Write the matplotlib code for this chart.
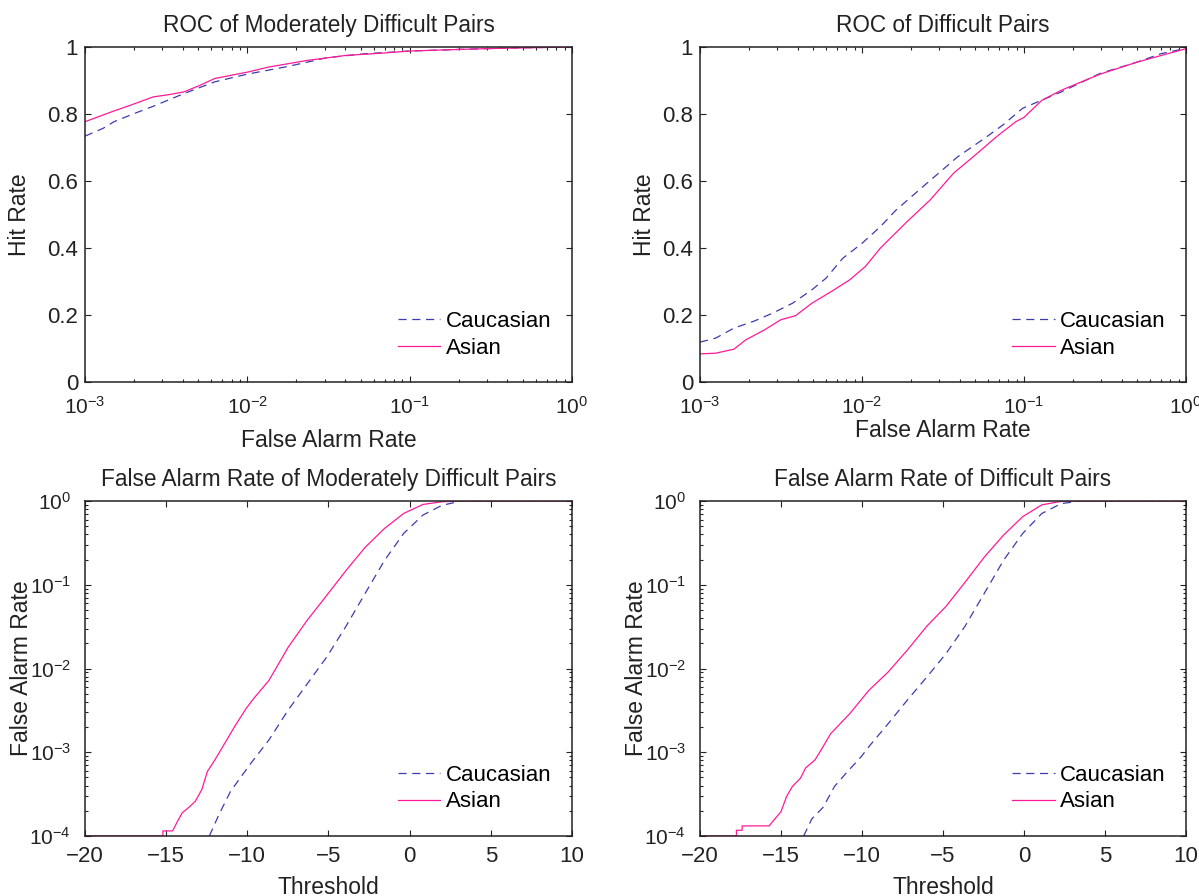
import matplotlib
matplotlib.use("Agg")
import matplotlib.pyplot as plt
from matplotlib.ticker import LogLocator, NullFormatter

plt.rcParams['font.family'] = ['Liberation Sans', 'DejaVu Sans']
plt.rcParams['mathtext.fontset'] = 'custom'
plt.rcParams['mathtext.rm'] = 'Liberation Sans'
plt.rcParams['mathtext.it'] = 'Liberation Sans:italic'
plt.rcParams['mathtext.bf'] = 'Liberation Sans:bold'

# ---- ROC, moderately difficult pairs (false alarm rate, hit rate) ----
roc_mod_cau_far = [1.0e-3, 1.29e-3, 1.51e-3, 2.0e-3, 2.63e-3, 4.07e-3, 6.3e-3, 1.0e-2,
                   1.78e-2, 3.09e-2, 5.37e-2, 1.0e-1, 2.1e-1, 4.0e-1, 1.0]
roc_mod_cau_hit = [0.734, 0.757, 0.777, 0.801, 0.823, 0.861, 0.896, 0.919,
                   0.942, 0.968, 0.980, 0.988, 0.993, 0.997, 1.0]
roc_mod_asi_far = [1.0e-3, 1.45e-3, 1.95e-3, 2.63e-3, 3.31e-3, 4.07e-3, 5.13e-3, 6.3e-3,
                   1.0e-2, 1.35e-2, 2.34e-2, 4.07e-2, 6.9e-2, 1.0e-1, 2.1e-1, 3.5e-1, 1.0]
roc_mod_asi_hit = [0.777, 0.806, 0.828, 0.851, 0.858, 0.866, 0.886, 0.906,
                   0.925, 0.940, 0.960, 0.975, 0.982, 0.988, 0.993, 0.996, 1.0]

# ---- ROC, difficult pairs ----
roc_dif_cau_far = [1.0e-3, 1.25e-3, 1.62e-3, 2.14e-3, 2.82e-3, 3.72e-3, 4.9e-3, 6.0e-3,
                   7.6e-3, 1.0e-2, 1.3e-2, 1.62e-2, 2.51e-2, 3.89e-2, 5.69e-2, 7.4e-2,
                   9.8e-2, 1.7e-1, 2.95e-1, 5.0e-1, 7.0e-1, 1.0]
roc_dif_cau_hit = [0.119, 0.131, 0.161, 0.181, 0.206, 0.235, 0.275, 0.310,
                   0.369, 0.414, 0.464, 0.513, 0.593, 0.672, 0.727, 0.767,
                   0.817, 0.866, 0.921, 0.955, 0.980, 0.996]
roc_dif_asi_far = [1.0e-3, 1.25e-3, 1.62e-3, 1.92e-3, 2.51e-3, 3.16e-3, 3.89e-3, 4.9e-3,
                   6.46e-3, 8.4e-3, 1.05e-2, 1.3e-2, 1.9e-2, 2.63e-2, 3.67e-2, 5.13e-2,
                   6.76e-2, 8.9e-2, 1.0e-1, 1.29e-1, 1.7e-1, 2.95e-1, 5.0e-1, 1.0]
roc_dif_asi_hit = [0.084, 0.086, 0.098, 0.126, 0.156, 0.186, 0.198, 0.235,
                   0.270, 0.305, 0.345, 0.400, 0.479, 0.543, 0.623, 0.682,
                   0.732, 0.777, 0.790, 0.841, 0.871, 0.919, 0.955, 0.995]

# ---- False alarm rate vs threshold, moderately difficult pairs ----
far_mod_cau_thr = [-12.34, -11.75, -11.04, -9.85, -8.67, -7.48, -6.3, -5.1, -3.92,
                   -2.74, -1.55, -0.37, 0.82, 2.0, 3.2, 10.0]
far_mod_cau_val = [1.0e-4, 1.8e-4, 3.4e-4, 7.1e-4, 1.4e-3, 3.2e-3, 6.6e-3, 1.38e-2, 3.2e-2,
                   7.9e-2, 0.195, 0.41, 0.68, 0.89, 1.0, 1.0]
far_mod_asi_thr = [-20.0, -15.2, -15.2, -14.6, -14.3, -14.0, -13.6, -13.2, -12.8, -12.46,
                   -12.0, -11.27, -10.8, -10.09, -9.6, -8.67, -7.48, -6.3, -5.1, -3.92,
                   -2.74, -1.55, -0.37, 0.82, 2.0, 3.2, 10.0]
far_mod_asi_val = [1.0e-4, 1.0e-4, 1.15e-4, 1.15e-4, 1.5e-4, 1.9e-4, 2.2e-4, 2.6e-4, 3.6e-4, 5.9e-4,
                   8.1e-4, 1.4e-3, 2.0e-3, 3.3e-3, 4.4e-3, 7.2e-3, 1.8e-2, 3.8e-2, 7.5e-2, 0.148,
                   0.28, 0.47, 0.71, 0.91, 0.98, 1.0, 1.0]

# ---- False alarm rate vs threshold, difficult pairs ----
far_dif_cau_thr = [-13.6, -13.1, -12.4, -11.7, -10.99, -10.04, -9.57, -8.38, -7.2, -6.0,
                   -4.82, -3.64, -2.45, -1.27, -0.08, 1.1, 2.29, 3.48, 10.0]
far_dif_cau_val = [1.0e-4, 1.6e-4, 2.2e-4, 3.9e-4, 5.6e-4, 8.9e-4, 1.17e-3, 2.2e-3, 4.2e-3, 7.9e-3,
                   1.5e-2, 3.2e-2, 7.9e-2, 0.195, 0.41, 0.71, 0.93, 1.0, 1.0]
far_dif_asi_thr = [-20.0, -17.75, -17.75, -17.4, -17.4, -15.73, -15.5, -15.0, -14.66, -14.3,
                   -13.8, -13.48, -12.9, -12.4, -11.94, -10.75, -9.57, -8.38, -7.2, -6.0,
                   -4.82, -3.64, -2.45, -1.27, -0.08, 1.1, 2.29, 3.5, 10.0]
far_dif_asi_val = [1.0e-4, 1.0e-4, 1.17e-4, 1.17e-4, 1.32e-4, 1.32e-4, 1.5e-4, 1.95e-4, 2.95e-4, 3.9e-4,
                   4.9e-4, 6.5e-4, 8.1e-4, 1.17e-3, 1.66e-3, 2.9e-3, 5.5e-3, 9.1e-3, 1.66e-2, 3.2e-2,
                   5.5e-2, 0.107, 0.214, 0.39, 0.65, 0.90, 0.99, 1.0, 1.0]

series_names = ["Caucasian", "Asian"]
cau_color = "#3c3cb0"
asi_color = "#ff1a96"
ink = '#222222'
dash = (0, (6.5, 4.5))

W, H = 1199, 896
fig = plt.figure(figsize=(W / 100, H / 100), dpi=100)


def px_axes(x0, x1, y0, y1):
    return fig.add_axes([x0 / W, 1 - y1 / H, (x1 - x0) / W, (y1 - y0) / H])


ax_tl = px_axes(85, 572, 47, 382)
ax_tr = px_axes(700, 1186, 47, 382)
ax_bl = px_axes(85, 572, 501, 836)
ax_br = px_axes(700, 1186, 501, 836)

LIN_FS = 16
LOG_FS = 15
LAB_FS = 16.5
TITLE_FS = 16.3


def style(ax):
    ax.tick_params(which='both', direction='in', top=True, right=True,
                   colors=ink, width=0.8)
    ax.tick_params(which='major', length=4.5)
    ax.tick_params(which='minor', length=2.5)
    for s in ax.spines.values():
        s.set_linewidth(1.1)
        s.set_color(ink)


def add_legend(ax, y_top):
    ax.legend(series_names, frameon=False, loc='upper left',
              bbox_to_anchor=(0.643, y_top), borderaxespad=0, borderpad=0,
              fontsize=LIN_FS, handlelength=1.9, handletextpad=0.25,
              labelspacing=0.26)


def roc_panel(ax, cf, ch, af, ah, title, xlab_y, ylab_x):
    ax.plot(cf, ch, color=cau_color, linestyle=dash, linewidth=0.9)
    ax.plot(af, ah, color=asi_color, linewidth=0.9)
    ax.set_xscale('log')
    ax.set_xlim(1e-3, 1)
    ax.set_ylim(0, 1)
    ax.set_yticks([0, 0.2, 0.4, 0.6, 0.8, 1.0])
    ax.set_yticklabels(["0", "0.2", "0.4", "0.6", "0.8", "1"])
    ax.xaxis.set_major_locator(LogLocator(base=10, numticks=10))
    ax.xaxis.set_minor_locator(LogLocator(base=10, subs=range(2, 10), numticks=20))
    ax.xaxis.set_minor_formatter(NullFormatter())
    style(ax)
    ax.tick_params(axis='x', which='major', labelsize=LOG_FS, pad=10)
    ax.tick_params(axis='y', which='major', labelsize=LIN_FS, pad=5)
    ax.set_title(title, fontsize=TITLE_FS, color=ink, pad=11)
    ax.set_xlabel("False Alarm Rate", fontsize=LAB_FS, color=ink)
    ax.set_ylabel("Hit Rate", fontsize=LAB_FS, color=ink)
    ax.xaxis.set_label_coords(0.5, xlab_y)
    ax.yaxis.set_label_coords(ylab_x, 0.5)
    add_legend(ax, 0.212)


def far_panel(ax, ct, cv, at, av, title, ylab_x):
    ax.plot(ct, cv, color=cau_color, linestyle=dash, linewidth=0.9)
    ax.plot(at, av, color=asi_color, linewidth=0.9)
    ax.set_yscale('log')
    ax.set_xlim(-20, 10)
    ax.set_ylim(1e-4, 1)
    ax.set_xticks([-20, -15, -10, -5, 0, 5, 10])
    ax.yaxis.set_major_locator(LogLocator(base=10, numticks=10))
    ax.yaxis.set_minor_locator(LogLocator(base=10, subs=range(2, 10), numticks=20))
    ax.yaxis.set_minor_formatter(NullFormatter())
    style(ax)
    ax.tick_params(axis='x', which='major', labelsize=LIN_FS, pad=7)
    ax.tick_params(axis='y', which='major', labelsize=LOG_FS, pad=10)
    ax.set_title(title, fontsize=TITLE_FS, color=ink, pad=11)
    ax.set_xlabel("Threshold", fontsize=LAB_FS, color=ink)
    ax.set_ylabel("False Alarm Rate", fontsize=LAB_FS, color=ink)
    ax.xaxis.set_label_coords(0.5, -0.118)
    ax.yaxis.set_label_coords(ylab_x, 0.5)
    add_legend(ax, 0.213)


roc_panel(ax_tl, roc_mod_cau_far, roc_mod_cau_hit, roc_mod_asi_far, roc_mod_asi_hit,
          "ROC of Moderately Difficult Pairs", -0.14, -0.111)
roc_panel(ax_tr, roc_dif_cau_far, roc_dif_cau_hit, roc_dif_asi_far, roc_dif_asi_hit,
          "ROC of Difficult Pairs", -0.11, -0.0905)
far_panel(ax_bl, far_mod_cau_thr, far_mod_cau_val, far_mod_asi_thr, far_mod_asi_val,
          "False Alarm Rate of Moderately Difficult Pairs", -0.107)
far_panel(ax_br, far_dif_cau_thr, far_dif_cau_val, far_dif_asi_thr, far_dif_asi_val,
          "False Alarm Rate of Difficult Pairs", -0.106)

fig.savefig("out.png", dpi=100)
